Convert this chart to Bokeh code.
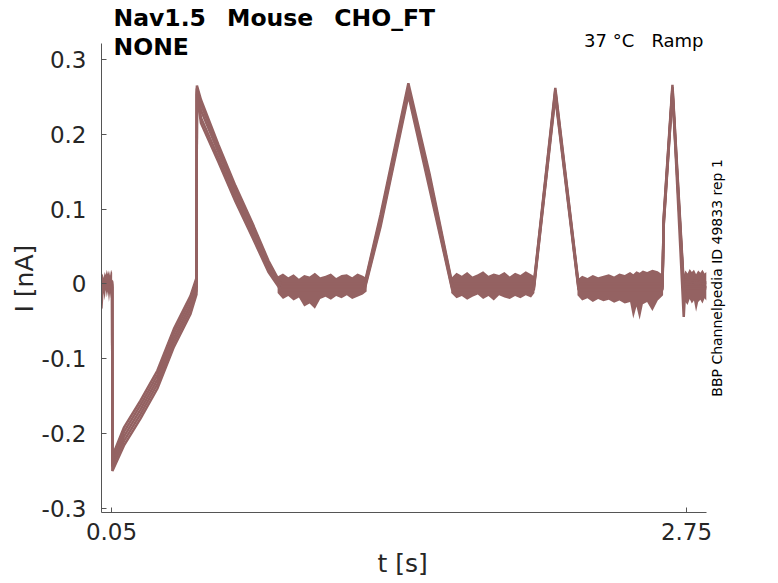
from bokeh.plotting import figure
from bokeh.models import Range1d, FixedTicker, Label, Title
from bokeh.embed import file_html
from bokeh.resources import INLINE

# ---- data ----
t_key = [0.003, 0.053, 0.054, 0.108, 0.186, 0.265, 0.343, 0.421, 0.449, 0.451, 0.470, 0.552, 0.632, 0.712,
         0.787, 0.845, 1.238, 1.313, 1.444, 1.545, 1.650, 2.033, 2.134, 2.243, 2.637, 2.643, 2.684, 2.737,
         2.745, 2.843]
trace_1 = [0.004, 0.004, -0.230, -0.192, -0.156, -0.116, -0.060, -0.016, 0.008, 0.265, 0.246, 0.186, 0.131, 0.081,
           0.031, 0.000, 0.000, 0.092, 0.268, 0.145, 0.000, 0.000, 0.262, 0.000, 0.000, 0.090, 0.266, 0.000,
           0.006, 0.002]
trace_2 = [0.002, 0.002, -0.236, -0.198, -0.162, -0.122, -0.066, -0.022, 0.002, 0.262, 0.240, 0.181, 0.126, 0.076,
           0.028, -0.002, -0.002, 0.088, 0.263, 0.140, -0.002, -0.002, 0.259, -0.002, -0.002, 0.087, 0.263, -0.004,
           0.003, 0.000]
trace_3 = [0.000, 0.000, -0.240, -0.204, -0.168, -0.128, -0.072, -0.028, -0.004, 0.260, 0.232, 0.176, 0.121, 0.071,
           0.024, -0.004, -0.004, 0.085, 0.260, 0.136, -0.004, -0.004, 0.256, -0.004, -0.004, 0.084, 0.260, -0.044,
           0.000, -0.004]
trace_4 = [-0.002, -0.002, -0.244, -0.210, -0.174, -0.134, -0.078, -0.034, -0.009, 0.257, 0.222, 0.169, 0.115, 0.066,
           0.020, -0.006, -0.006, 0.080, 0.256, 0.130, -0.006, -0.006, 0.253, -0.006, -0.006, 0.080, 0.257, -0.008,
           -0.004, -0.004]
trace_5 = [-0.004, -0.004, -0.250, -0.216, -0.180, -0.140, -0.084, -0.040, -0.014, 0.254, 0.215, 0.163, 0.110, 0.062,
           0.016, -0.008, -0.008, 0.076, 0.252, 0.125, -0.008, -0.008, 0.250, -0.008, -0.008, 0.078, 0.255, -0.010,
           -0.006, -0.006]

# baseline noise envelopes (upper / lower)
seg0_t = [0.003, 0.008, 0.013, 0.018, 0.023, 0.028, 0.033, 0.038, 0.043, 0.048, 0.053]
seg0_hi = [0.010, 0.014, 0.008, 0.016, 0.012, 0.019, 0.013, 0.018, 0.011, 0.019, 0.015]
seg0_lo = [-0.030, -0.034, -0.012, -0.022, -0.008, -0.018, -0.010, -0.024, -0.012, -0.020, -0.015]

seg1_t = [0.830, 0.855, 0.880, 0.905, 0.930, 0.955, 0.980, 1.005, 1.030, 1.055, 1.080, 1.105, 1.130, 1.155,
          1.180, 1.205, 1.230, 1.248]
seg1_hi = [0.010, 0.014, 0.009, 0.013, 0.007, 0.012, 0.010, 0.015, 0.009, 0.011, 0.014, 0.008, 0.012, 0.013,
           0.009, 0.014, 0.011, 0.008]
seg1_lo = [-0.012, -0.020, -0.016, -0.022, -0.018, -0.030, -0.026, -0.033, -0.020, -0.017, -0.021, -0.016, -0.019,
           -0.015, -0.020, -0.017, -0.014, -0.010]

seg2_t = [1.645, 1.670, 1.695, 1.720, 1.745, 1.770, 1.795, 1.820, 1.845, 1.870, 1.895, 1.920, 1.945, 1.970,
          1.995, 2.020, 2.036]
seg2_hi = [0.008, 0.015, 0.011, 0.016, 0.010, 0.013, 0.017, 0.011, 0.014, 0.012, 0.016, 0.010, 0.015, 0.012,
           0.017, 0.013, 0.010]
seg2_lo = [-0.012, -0.019, -0.016, -0.021, -0.017, -0.014, -0.020, -0.016, -0.022, -0.015, -0.018, -0.020, -0.016,
           -0.019, -0.015, -0.018, -0.012]

seg3_t = [2.238, 2.260, 2.285, 2.310, 2.335, 2.360, 2.385, 2.410, 2.435, 2.460, 2.485, 2.500, 2.515, 2.530,
          2.545, 2.565, 2.590, 2.615, 2.640]
seg3_hi = [0.006, 0.011, 0.008, 0.012, 0.009, 0.011, 0.013, 0.010, 0.014, 0.012, 0.016, 0.013, 0.017, 0.015,
           0.018, 0.016, 0.019, 0.017, 0.012]
seg3_lo = [-0.015, -0.022, -0.019, -0.024, -0.020, -0.023, -0.021, -0.025, -0.022, -0.026, -0.024, -0.046, -0.030,
           -0.048, -0.027, -0.024, -0.036, -0.022, -0.015]

seg4_t = [2.735, 2.745, 2.755, 2.765, 2.775, 2.785, 2.795, 2.805, 2.815, 2.825, 2.835, 2.843]
seg4_hi = [0.010, 0.018, 0.014, 0.020, 0.016, 0.019, 0.013, 0.018, 0.015, 0.019, 0.014, 0.016]
seg4_lo = [-0.030, -0.024, -0.028, -0.020, -0.026, -0.022, -0.037, -0.024, -0.021, -0.026, -0.019, -0.022]

x_ticks = [0.05, 2.75]
x_tick_labels = ["0.05", "2.75"]
y_ticks = [-0.3, -0.2, -0.1, 0.0, 0.1, 0.2, 0.3]
y_tick_labels = ["-0.3", "-0.2", "-0.1", "0", "0.1", "0.2", "0.3"]

TITLE_GAP = "\u00a0\u2009 "     # keeps the wide spacing of the original texts
CORNER_GAP = "\u00a0\u00a0 "
title_1 = "Nav1.5" + TITLE_GAP + "Mouse" + TITLE_GAP + "CHO_FT"
title_2 = "NONE"
corner_text = "37 °C" + CORNER_GAP + "Ramp"
side_text = "BBP Channelpedia ID 49833 rep 1"
x_label = "t [s]"
y_label = "I [nA]"

# ---- figure ----
X0, X1 = 0.003, 2.843          # visible axis extent
Y0, Y1 = -0.3053, 0.3213
XR = 3.182                     # frame runs on to the right edge (for the side note)
YR = 0.3786                    # frame runs up to the top edge (for the title)
COL = "#946262"
FONT = "DejaVu Sans"
TXT = "#262626"

p = figure(width=778, height=583, output_backend="svg", toolbar_location=None,
           x_range=Range1d(X0, XR), y_range=Range1d(Y0, YR),
           min_border_left=101, min_border_right=0, min_border_top=0, min_border_bottom=71)
p.outline_line_color = None
p.xgrid.visible = False
p.ygrid.visible = False
p.background_fill_color = "white"
p.border_fill_color = "white"

for st, hi, lo in [(seg0_t, seg0_hi, seg0_lo), (seg1_t, seg1_hi, seg1_lo), (seg2_t, seg2_hi, seg2_lo),
                   (seg3_t, seg3_hi, seg3_lo), (seg4_t, seg4_hi, seg4_lo)]:
    p.varea(x=st, y1=lo, y2=hi, fill_color=COL, fill_alpha=1.0)

for tr in [trace_1, trace_2, trace_3, trace_4, trace_5]:
    p.line(t_key, tr, line_color=COL, line_width=2.5)

for ax in (p.xaxis[0], p.yaxis[0]):
    ax.axis_line_color = "#555555"
    ax.major_tick_line_color = "#555555"
    ax.major_tick_in = 5
    ax.major_tick_out = 0
    ax.minor_tick_line_color = None
    ax.major_label_text_font = FONT
    ax.major_label_text_font_size = "23px"
    ax.major_label_text_color = TXT

p.xaxis.bounds = (X0, X1)
p.yaxis.bounds = (Y0, Y1)
p.xaxis.ticker = FixedTicker(ticks=x_ticks)
p.xaxis.major_label_overrides = dict(zip(x_ticks, x_tick_labels))
p.yaxis.ticker = FixedTicker(ticks=y_ticks)
p.yaxis.major_label_overrides = dict(zip(y_ticks, y_tick_labels))
p.xaxis.major_label_standoff = 10
p.yaxis.major_label_standoff = 15

# axis titles as side-panel titles, placed on the middle of the visible axis extent
p.add_layout(Title(text=x_label, align="left", offset=276, standoff=8, text_font=FONT,
                   text_font_size="25px", text_font_style="normal", text_color=TXT), "below")
p.add_layout(Title(text=y_label, align="left", offset=200, standoff=0, text_font=FONT,
                   text_font_size="25px", text_font_style="normal", text_color=TXT), "left")

p.add_layout(Label(x=0.0593, y=0.3546, text=title_1, text_font=FONT, text_font_size="23.5px",
                   text_font_style="bold", text_color="black", text_baseline="middle", text_align="left"))
p.add_layout(Label(x=0.0593, y=0.316, text=title_2, text_font=FONT, text_font_size="23.5px",
                   text_font_style="bold", text_color="black", text_baseline="middle", text_align="left"))
p.add_layout(Label(x=2.830, y=0.3253, text=corner_text, text_font=FONT, text_font_size="18px",
                   text_color="black", text_baseline="middle", text_align="right"))
p.add_layout(Label(x=2.891, y=0.008, text=side_text, text_font=FONT, text_font_size="14px",
                   text_color="black", text_baseline="middle", text_align="center", angle=1.5708))

open("out.html", "w").write(file_html(p, INLINE))
